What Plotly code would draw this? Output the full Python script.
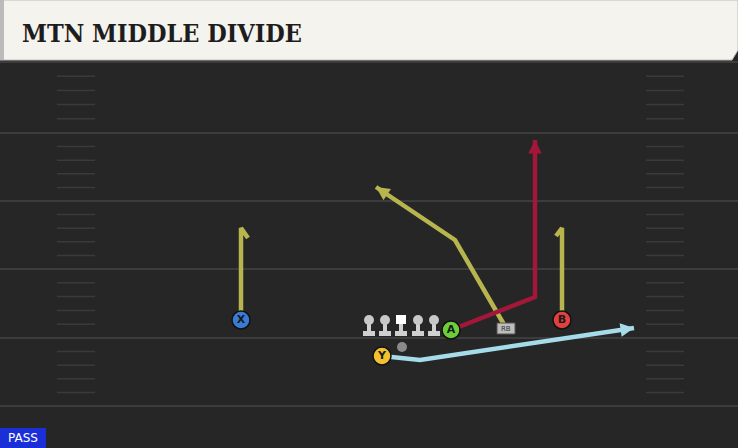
import plotly.graph_objects as go

W, H = 738, 448
yard_lines = [62, 133, 201, 269, 338, 406]
hash_left = [57, 95]
hash_right = [646, 684]

routes = {
    "X": dict(x=[241, 241, 248], y=[320, 228, 238], color="#b8b44e", arrow=False),
    "B": dict(x=[562, 562, 556], y=[320, 228, 236], color="#b8b44e", arrow=False),
    "RB": dict(x=[506, 455, 376], y=[328, 240, 187], color="#b8b44e", arrow=True),
    "A": dict(x=[451, 535, 535], y=[330, 297, 140], color="#a3173a", arrow=True),
    "Y": dict(x=[382, 420, 634], y=[356, 360, 328], color="#a6dcea", arrow=True),
}
players = dict(
    name=["X", "A", "B", "Y"],
    x=[241, 451, 562, 382],
    y=[320, 330, 320, 356],
    color=["#3a7bd5", "#6ccf3a", "#e0403e", "#f2c12e"],
)
linemen_x = [369, 385, 401, 418, 434]
linemen_y = 327
ball = (402, 347)
rb = (506, 328)

fig = go.Figure()
shapes = []
shapes.append(dict(type="rect", x0=0, x1=W, y0=0, y1=H, fillcolor="#262626", line_width=0, layer="below"))
for y in yard_lines:
    shapes.append(dict(type="line", x0=0, x1=W, y0=y, y1=y, line=dict(color="#3c3c3c", width=2), layer="below"))
for i in range(len(yard_lines) - 1):
    y0, y1 = yard_lines[i], yard_lines[i + 1]
    step = (y1 - y0) / 5
    for k in range(1, 5):
        yy = y0 + k * step
        for hx in (hash_left, hash_right):
            shapes.append(dict(type="line", x0=hx[0], x1=hx[1], y0=yy, y1=yy, line=dict(color="#3a3a3a", width=1.5), layer="below"))
shapes.append(dict(type="path", path="M0,0 L738,0 L738,50 L732,60 L0,60 Z", fillcolor="#f5f3ee", line=dict(color="#bdbdbd", width=1)))
shapes.append(dict(type="rect", x0=0, x1=4, y0=0, y1=60, fillcolor="#bbbbbb", line_width=0))
shapes.append(dict(type="rect", x0=0, x1=46, y0=428, y1=448, fillcolor="#1a2fd8", line_width=0))

annotations = []
for k, r in routes.items():
    fig.add_trace(go.Scatter(x=r["x"], y=r["y"], mode="lines", line=dict(color=r["color"], width=4.5), hoverinfo="skip"))
    if r["arrow"]:
        annotations.append(dict(x=r["x"][-1], y=r["y"][-1], ax=r["x"][-2], ay=r["y"][-2],
                                xref="x", yref="y", axref="x", ayref="y", text="", showarrow=True,
                                arrowhead=2, arrowsize=0.9, arrowwidth=3, arrowcolor=r["color"], standoff=0))

for i, lx in enumerate(linemen_x):
    shapes.append(dict(type="rect", x0=lx - 6, x1=lx + 6, y0=linemen_y + 4, y1=linemen_y + 9, fillcolor="#d0d0d0", line_width=0))
    shapes.append(dict(type="rect", x0=lx - 2, x1=lx + 2, y0=linemen_y - 3, y1=linemen_y + 5, fillcolor="#d0d0d0", line_width=0))
    if i == 2:
        shapes.append(dict(type="rect", x0=lx - 5, x1=lx + 5, y0=linemen_y - 12, y1=linemen_y - 3, fillcolor="#ffffff", line_width=0))
    else:
        shapes.append(dict(type="circle", x0=lx - 5, x1=lx + 5, y0=linemen_y - 12, y1=linemen_y - 2, fillcolor="#c8c8c8", line_width=0))
shapes.append(dict(type="circle", x0=ball[0] - 5, x1=ball[0] + 5, y0=ball[1] - 5, y1=ball[1] + 5, fillcolor="#8a8a8a", line_width=0))
shapes.append(dict(type="rect", x0=rb[0] - 9, x1=rb[0] + 9, y0=rb[1] - 5, y1=rb[1] + 6, fillcolor="#bdbdbd", line=dict(color="#555", width=1)))
annotations.append(dict(x=rb[0], y=rb[1] + 1, text="RB", showarrow=False, font=dict(size=7, color="#333", family="DejaVu Sans")))

fig.add_trace(go.Scatter(x=players["x"], y=players["y"], mode="markers+text", text=["<b>%s</b>" % n for n in players["name"]],
                         textposition="middle center", textfont=dict(color="#1a1a1a", size=11, family="DejaVu Sans"),
                         marker=dict(size=18, color=players["color"], line=dict(color="#111", width=1.5)), hoverinfo="skip"))

annotations.append(dict(x=20, y=33, xanchor="left", yanchor="middle", text="<b>MTN MIDDLE DIVIDE</b>", showarrow=False,
                        font=dict(size=25, color="#1d1d1d", family="DejaVu Serif Condensed")))
annotations.append(dict(x=23, y=438, text="PASS", showarrow=False, font=dict(size=12, color="white", family="DejaVu Sans")))

fig.update_layout(width=W, height=H, margin=dict(l=0, r=0, t=0, b=0), showlegend=False,
                  paper_bgcolor="#262626", plot_bgcolor="#262626", shapes=shapes, annotations=annotations,
                  xaxis=dict(range=[0, W], visible=False, fixedrange=True),
                  yaxis=dict(range=[H, 0], visible=False, fixedrange=True))
fig.write_html("out.html", config={"displayModeBar": False},
               post_script="document.body.style.margin='0';document.body.style.overflow='hidden';")
